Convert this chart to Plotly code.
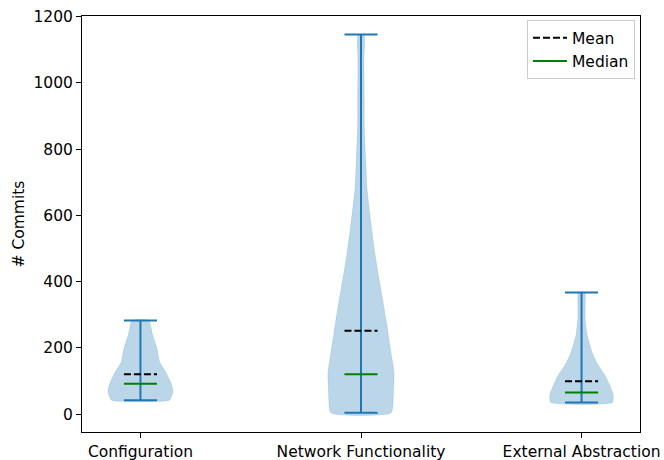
import plotly.graph_objects as go

# Summary statistics per category
categories = ["Configuration", "Network Functionality", "External Abstraction"]
positions = [1, 2, 3]
means = [120, 252, 99]
medians = [92, 120, 65]
mins = [42, 4, 35]
maxs = [283, 1146, 367]

# Violin outlines: commit levels and relative density (1.0 = widest point)
config_levels = [42, 57, 72, 97, 127, 157, 199, 238, 283]
config_density = [0.88, 0.95, 0.98, 0.91, 0.76, 0.58, 0.50, 0.37, 0.25]

network_levels = [4, 63, 124, 184, 283, 383, 485, 585, 684, 772, 871, 947, 1067, 1146]
network_density = [0.91, 0.98, 1.0, 0.91, 0.76, 0.59, 0.42, 0.29, 0.18, 0.14, 0.10, 0.10, 0.09, 0.09]

ext_levels = [35, 57, 87, 118, 148, 178, 208, 238, 289, 329, 367]
ext_density = [0.93, 0.96, 0.85, 0.70, 0.50, 0.35, 0.25, 0.17, 0.11, 0.11, 0.10]

profiles = [(config_levels, config_density),
            (network_levels, network_density),
            (ext_levels, ext_density)]

BLUE = "#1f77b4"
HALF_WIDTH = 0.15   # violin half-width in axis units
CAP = 0.075         # half-length of caps / mean / median bars
FONT = "DejaVu Sans"
FSIZE = 15.5

fig = go.Figure()

# Violin bodies as closed filled outlines
for pos, (levels, dens) in zip(positions, profiles):
    xs = [pos + HALF_WIDTH * d for d in dens] + [pos - HALF_WIDTH * d for d in reversed(dens)]
    ys = list(levels) + list(reversed(levels))
    xs.append(xs[0])
    ys.append(ys[0])
    fig.add_trace(go.Scatter(
        x=xs, y=ys, mode="lines", fill="toself",
        fillcolor="rgba(31,119,180,0.3)",
        line=dict(color="rgba(31,119,180,0.3)", width=0.5, shape="spline", smoothing=0.5),
        showlegend=False, hoverinfo="skip"))

# Vertical range bars and min/max caps
bx, by = [], []
for pos, lo, hi in zip(positions, mins, maxs):
    bx += [pos, pos, None, pos - CAP, pos + CAP, None, pos - CAP, pos + CAP, None]
    by += [lo, hi, None, lo, lo, None, hi, hi, None]
fig.add_trace(go.Scatter(x=bx, y=by, mode="lines",
                         line=dict(color=BLUE, width=2),
                         showlegend=False, hoverinfo="skip"))

# Mean bars
mx, my = [], []
for pos, m in zip(positions, means):
    mx += [pos - CAP, pos + CAP, None]
    my += [m, m, None]
fig.add_trace(go.Scatter(x=mx, y=my, mode="lines", name="Mean",
                         line=dict(color="black", width=2, dash="7px,3px")))

# Median bars
dx, dy = [], []
for pos, m in zip(positions, medians):
    dx += [pos - CAP, pos + CAP, None]
    dy += [m, m, None]
fig.add_trace(go.Scatter(x=dx, y=dy, mode="lines", name="Median",
                         line=dict(color="green", width=2)))

axis_common = dict(showline=True, mirror=True, linecolor="black", linewidth=1,
                   ticks="outside", ticklen=5, tickcolor="black", tickwidth=1,
                   showgrid=False, zeroline=False,
                   tickfont=dict(family=FONT, size=FSIZE, color="black"))

fig.update_layout(
    width=664, height=460,
    margin=dict(l=82, r=24, t=16, b=28),
    paper_bgcolor="white", plot_bgcolor="white",
    font=dict(family=FONT, size=FSIZE, color="black"),
    xaxis=dict(range=[0.735, 3.265], tickvals=positions, ticktext=categories,
               automargin=False, **axis_common),
    yaxis=dict(range=[-54, 1202], tickvals=[0, 200, 400, 600, 800, 1000, 1200],
               automargin=False,
               title=dict(text="# Commits", font=dict(family=FONT, size=FSIZE), standoff=5),
               **axis_common),
    legend=dict(x=0.991, y=0.99, xanchor="right", yanchor="top",
                bgcolor="rgba(255,255,255,0.8)", bordercolor="#cccccc", borderwidth=1,
                font=dict(family=FONT, size=FSIZE), itemwidth=34),
    showlegend=True,
)

fig.write_html("out.html")
